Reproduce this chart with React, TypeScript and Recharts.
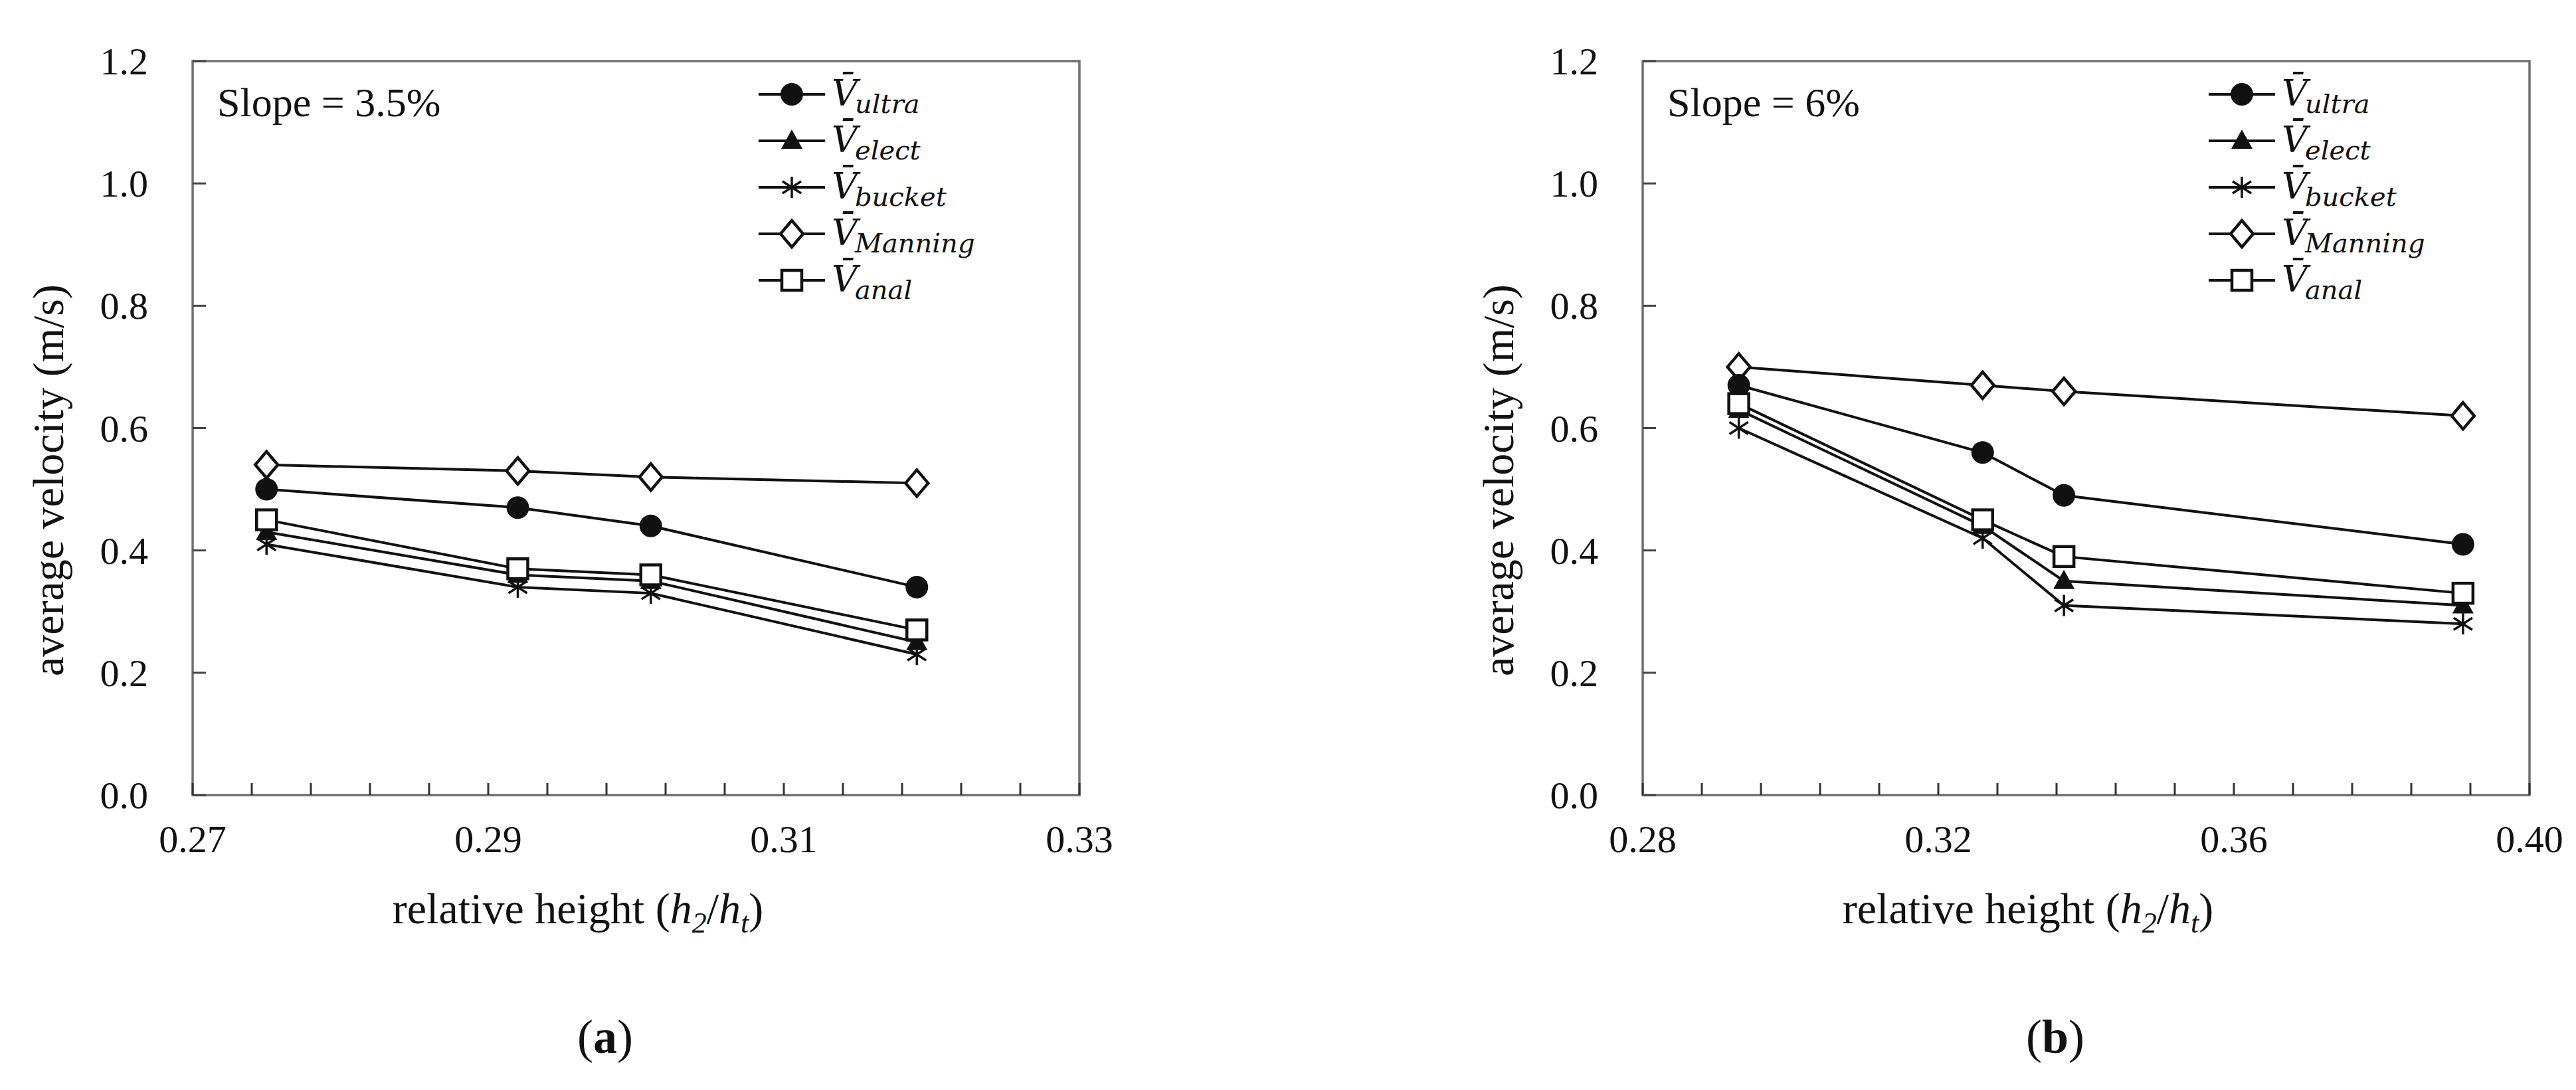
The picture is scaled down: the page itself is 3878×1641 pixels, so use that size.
import React from "react";
import { LineChart, Line, XAxis, YAxis, ReferenceArea } from "recharts";

// panel (a) slope 3.5%
const HEIGHT_A = [0.275, 0.292, 0.301, 0.319];
const ULTRA_A = [0.5, 0.47, 0.44, 0.34];
const ELECT_A = [0.43, 0.36, 0.35, 0.25];
const BUCKET_A = [0.41, 0.34, 0.33, 0.23];
const MANNING_A = [0.54, 0.53, 0.52, 0.51];
const ANAL_A = [0.45, 0.37, 0.36, 0.27];

// panel (b) slope 6%
const HEIGHT_B = [0.293, 0.326, 0.337, 0.391];
const ULTRA_B = [0.67, 0.56, 0.49, 0.41];
const ELECT_B = [0.63, 0.44, 0.35, 0.31];
const BUCKET_B = [0.6, 0.42, 0.31, 0.28];
const MANNING_B = [0.7, 0.67, 0.66, 0.62];
const ANAL_B = [0.64, 0.45, 0.39, 0.33];

const X_TICKS_A = [0.27, 0.274, 0.278, 0.282, 0.286, 0.29, 0.294, 0.298, 0.302, 0.306, 0.31, 0.314, 0.318, 0.322, 0.326, 0.33];
const X_LABELS_A = [0.27, 0.29, 0.31, 0.33];
const X_TICKS_B = [0.28, 0.288, 0.296, 0.304, 0.312, 0.32, 0.328, 0.336, 0.344, 0.352, 0.36, 0.368, 0.376, 0.384, 0.392, 0.4];
const X_LABELS_B = [0.28, 0.32, 0.36, 0.4];
const Y_TICKS = [0, 0.2, 0.4, 0.6, 0.8, 1.0, 1.2];

const LEGEND = [
  { key: "ultra", sub: "ultra", shape: "circle" },
  { key: "elect", sub: "elect", shape: "triangle" },
  { key: "bucket", sub: "bucket", shape: "star" },
  { key: "manning", sub: "Manning", shape: "diamond" },
  { key: "anal", sub: "anal", shape: "square" },
];

// drawing order (square on top)
const DRAW_ORDER = ["manning", "ultra", "elect", "bucket", "anal"];

const INK = "#111";
const FRAME = "#6f6f6f";
const SERIF = '"Liberation Serif", "Times New Roman", serif';

function buildRows(h: number[], u: number[], e: number[], b: number[], m: number[], a: number[]) {
  return h.map((x, i) => ({ h: x, ultra: u[i], elect: e[i], bucket: b[i], manning: m[i], anal: a[i] }));
}

const DATA_A = buildRows(HEIGHT_A, ULTRA_A, ELECT_A, BUCKET_A, MANNING_A, ANAL_A);
const DATA_B = buildRows(HEIGHT_B, ULTRA_B, ELECT_B, BUCKET_B, MANNING_B, ANAL_B);

function Marker({ shape, cx, cy }: { shape: string; cx: number; cy: number }) {
  if (cx == null || cy == null) return null;
  switch (shape) {
    case "circle":
      return <circle cx={cx} cy={cy} r={17} fill={INK} />;
    case "triangle":
      return (
        <polygon
          points={`${cx},${cy - 17} ${cx - 16},${cy + 12} ${cx + 16},${cy + 12}`}
          fill={INK}
        />
      );
    case "star":
      return (
        <g stroke={INK} strokeWidth={3.5}>
          <line x1={cx} y1={cy - 16} x2={cx} y2={cy + 16} />
          <line x1={cx - 14} y1={cy - 9} x2={cx + 14} y2={cy + 9} />
          <line x1={cx - 14} y1={cy + 9} x2={cx + 14} y2={cy - 9} />
        </g>
      );
    case "diamond":
      return (
        <polygon
          points={`${cx},${cy - 20} ${cx + 17},${cy} ${cx},${cy + 20} ${cx - 17},${cy}`}
          fill="#fff"
          stroke={INK}
          strokeWidth={4.5}
        />
      );
    case "square":
      return (
        <rect x={cx - 15} y={cy - 15} width={30} height={30} fill="#fff" stroke={INK} strokeWidth={4.5} />
      );
    default:
      return null;
  }
}

function shapeOf(key: string) {
  return LEGEND.find((l) => l.key === key)!.shape;
}

const XTick = (props: any) => {
  const { x, y, payload, labels } = props;
  const show = labels.some((l: number) => Math.abs(l - payload.value) < 1e-9);
  return (
    <g>
      <line x1={x} x2={x} y1={y} y2={y - 18} stroke="#333" strokeWidth={3} />
      {show && (
        <text x={x} y={y + 86} textAnchor="middle" fontSize={58} fill={INK} fontFamily={SERIF}>
          {payload.value.toFixed(2)}
        </text>
      )}
    </g>
  );
};

const YTick = (props: any) => {
  const { x, y, payload } = props;
  return (
    <g>
      <line x1={x} x2={x + 20} y1={y} y2={y} stroke="#444" strokeWidth={3} />
      <text x={x - 67} y={y + 20} textAnchor="end" fontSize={58} fill={INK} fontFamily={SERIF}>
        {payload.value.toFixed(1)}
      </text>
    </g>
  );
};

function LegendBox() {
  return (
    <svg width={520} height={400} style={{ position: "absolute", left: 1130, top: 92 }}>
      {LEGEND.map((item, i) => {
        const y = 50 + i * 70;
        return (
          <g key={item.key}>
            <line x1={12} x2={112} y1={y} y2={y} stroke={INK} strokeWidth={4} />
            <Marker shape={item.shape} cx={62} cy={y} />
            <text x={122} y={y + 17} fontSize={54} fontStyle="italic" fill={INK} fontFamily='"DejaVu Serif", serif'>
              <tspan>{"V\u0304"}</tspan>
              <tspan dx={-4} dy={11} fontSize={40}>
                {item.sub}
              </tspan>
            </text>
          </g>
        );
      })}
    </svg>
  );
}

function Panel({
  left,
  data,
  xDomain,
  xTicks,
  xLabels,
  slope,
  letter,
}: {
  left: number;
  data: any[];
  xDomain: [number, number];
  xTicks: number[];
  xLabels: number[];
  slope: string;
  letter: string;
}) {
  return (
    <div style={{ position: "absolute", left, top: 0, width: 1695, height: 1641 }}>
      <LineChart width={1695} height={1641} data={data} margin={{ top: 92, left: 230, right: 70, bottom: 414 }}>
        <ReferenceArea
          x1={xDomain[0]}
          x2={xDomain[1]}
          y1={0}
          y2={1.2}
          fill="none"
          stroke={FRAME}
          strokeWidth={3.5}
          ifOverflow="visible"
        />
        <XAxis
          dataKey="h"
          type="number"
          domain={xDomain}
          ticks={xTicks}
          interval={0}
          axisLine={false}
          tickLine={false}
          tickSize={0}
          tickMargin={0}
          height={30}
          tick={<XTick labels={xLabels} />}
        />
        <YAxis
          type="number"
          domain={[0, 1.2]}
          ticks={Y_TICKS}
          interval={0}
          axisLine={false}
          tickLine={false}
          tickSize={0}
          tickMargin={0}
          width={60}
          tick={<YTick />}
        />
        {DRAW_ORDER.map((key) => (
          <Line
            key={key}
            dataKey={key}
            type="linear"
            stroke={INK}
            strokeWidth={4}
            isAnimationActive={false}
            dot={(p: any) => (
              <g key={`${key}-${p.index}`}>
                <Marker shape={shapeOf(key)} cx={p.cx} cy={p.cy} />
              </g>
            )}
            activeDot={false}
          />
        ))}
      </LineChart>
      <LegendBox />
      <div
        style={{
          position: "absolute",
          left: 327,
          top: 123,
          fontSize: 62,
          lineHeight: 1,
          whiteSpace: "nowrap",
          color: INK,
          fontFamily: SERIF,
        }}
      >
        {slope}
      </div>
      <div
        style={{
          position: "absolute",
          left: 73,
          top: 723,
          transform: "translate(-50%, -50%) rotate(-90deg)",
          fontSize: 66,
          lineHeight: 1,
          whiteSpace: "nowrap",
          color: INK,
          fontFamily: SERIF,
        }}
      >
        average velocity (m/s)
      </div>
      <div
        style={{
          position: "absolute",
          left: 870,
          top: 1335,
          transform: "translateX(-50%)",
          fontSize: 66,
          lineHeight: 1,
          whiteSpace: "nowrap",
          color: INK,
          fontFamily: SERIF,
        }}
      >
        relative height (<i>h</i>
        <sub style={{ fontSize: 44, fontStyle: "italic" }}>2</sub>/<i>h</i>
        <sub style={{ fontSize: 44, fontStyle: "italic" }}>t</sub>)
      </div>
      <div
        style={{
          position: "absolute",
          left: 911,
          top: 1525,
          transform: "translateX(-50%)",
          fontSize: 72,
          lineHeight: 1,
          whiteSpace: "nowrap",
          color: INK,
          fontFamily: SERIF,
        }}
      >
        (<b>{letter}</b>)
      </div>
    </div>
  );
}

export default function App() {
  return (
    <div
      style={{
        position: "absolute",
        left: 0,
        top: 0,
        width: 3878,
        height: 1641,
        background: "#fff",
        fontFamily: SERIF,
        overflow: "hidden",
      }}
    >
      <Panel
        left={0}
        data={DATA_A}
        xDomain={[0.27, 0.33]}
        xTicks={X_TICKS_A}
        xLabels={X_LABELS_A}
        slope="Slope = 3.5%"
        letter="a"
      />
      <Panel
        left={2183}
        data={DATA_B}
        xDomain={[0.28, 0.4]}
        xTicks={X_TICKS_B}
        xLabels={X_LABELS_B}
        slope="Slope = 6%"
        letter="b"
      />
    </div>
  );
}
